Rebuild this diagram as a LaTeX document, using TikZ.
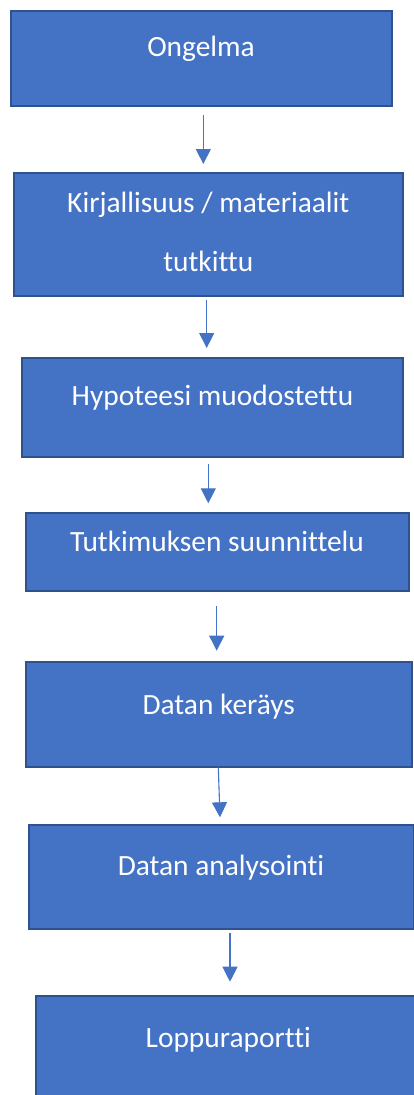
\documentclass[tikz,border=0pt]{standalone}
\usepackage{fontspec}
\setmainfont[Ligatures={NoCommon}]{Carlito}
\usetikzlibrary{arrows.meta,positioning}
\definecolor{boxfill}{HTML}{4472C4}
\definecolor{boxline}{HTML}{2F528F}
\definecolor{arrowcol}{HTML}{4472C4}
\tikzset{
  stepbox/.style={draw=boxline, line width=2pt, fill=boxfill, rectangle, inner sep=0pt},
  steptext/.style={text=white, font=\fontsize{29.4}{60}\selectfont, inner sep=0pt, anchor=base, align=center},
  flowarrow/.style={draw=arrowcol, line width=1.1pt, -{Triangle[width=15pt,length=15pt]}}
}
\begin{document}
\begin{tikzpicture}[x=1pt,y=-1pt]
\useasboundingbox (0,0) rectangle (414,1095);
\clip (0,0) rectangle (414,1095);
% boxes
\node[stepbox, minimum width=381pt, minimum height=95.5pt] (b1) at (201,58.25) {};
\node[stepbox, minimum width=389.5pt, minimum height=123.5pt] (b2) at (208.25,234.25) {};
\node[stepbox, minimum width=381pt, minimum height=99pt] (b3) at (212.5,407) {};
\node[stepbox, minimum width=383.5pt, minimum height=78.5pt] (b4) at (217.25,551.75) {};
\node[stepbox, minimum width=385.5pt, minimum height=104.5pt] (b5) at (218.75,714.25) {};
\node[stepbox, minimum width=385pt, minimum height=104.5pt] (b6) at (221,876.75) {};
\node[stepbox, minimum width=385.5pt, minimum height=114pt] (b7) at (228.25,1053) {};
% texts
\node[steptext] (t1) at (201,56) {Ongelma};
\node[steptext] (t2a) at (208.3,212.7) {Kirjallisuus / materiaalit};
\node[steptext] (t2b) at (208.3,271.7) {tutkittu};
\node[steptext] (t3) at (212.5,405) {Hypoteesi muodostettu};
\node[steptext] (t4) at (217,551.3) {Tutkimuksen suunnittelu};
\node[steptext] (t5) at (218.7,714) {Datan keräys};
\node[steptext] (t6) at (221,875) {Datan analysointi};
\node[steptext] (t7) at (228.3,1047.7) {Loppuraportti};
% arrow end points
\coordinate (s1) at (203.3,115);  \coordinate (e1) at (203.3,164);
\coordinate (s2) at (206.7,300);  \coordinate (e2) at (206.7,348);
\coordinate (s3) at (208.3,464.3);\coordinate (e3) at (208.3,503.3);
\coordinate (s4) at (216.7,606);  \coordinate (e4) at (216.7,650.7);
\coordinate (s5) at (218.3,767.3);\coordinate (e5) at (220,817.3);
\coordinate (s6) at (230,933.3);  \coordinate (e6) at (230,981.7);
\draw[flowarrow] (s1) -- (e1);
\draw[flowarrow] (s2) -- (e2);
\draw[flowarrow] (s3) -- (e3);
\draw[flowarrow] (s4) -- (e4);
\draw[flowarrow] (s5) -- (e5);
\draw[flowarrow] (s6) -- (e6);
\end{tikzpicture}
\end{document}
